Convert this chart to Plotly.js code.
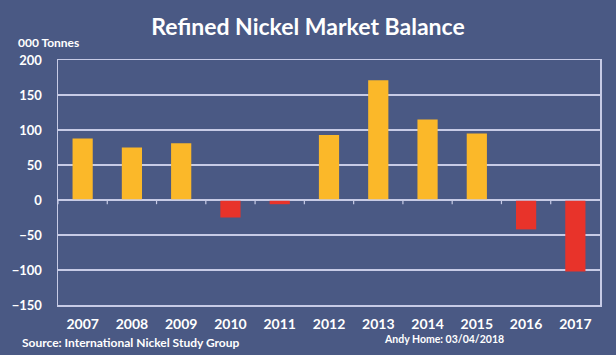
<!DOCTYPE html>
<html><head><meta charset="utf-8">
<script src="https://cdn.plot.ly/plotly-3.0.1.min.js"></script>
<style>html,body{margin:0;padding:0;background:#4a5984;}</style>
</head><body>
<div id="chart" style="width:616px;height:355px;"></div>
<script>
const years = ['2007','2008','2009','2010','2011','2012','2013','2014','2015','2016','2017'];
const balance = [88, 75, 81, -25, -6, 93, 171, 115, 95, -42, -102];
const yTicks = [-150, -100, -50, 0, 50, 100, 150, 200];

const colors = balance.map(v => v >= 0 ? '#fbb829' : '#e8332a');
const F = 'Lato, "Open Sans", sans-serif';

const trace = {
  type: 'bar', x: years, y: balance,
  marker: {color: colors, line: {width: 0}},
  hoverinfo: 'x+y'
};
const grid = '#c7cbe6';
const catRange = [-0.5, years.length - 0.5];

// small tick marks on the zero line at category boundaries
const tickShapes = years.map((_, i) => ({
  type: 'line', xref: 'x', yref: 'y', x0: i - 0.5, x1: i - 0.5, y0: 0, y1: -6,
  line: {color: grid, width: 1.2}, layer: 'above'
}));
tickShapes.push({type: 'line', xref: 'paper', yref: 'y', x0: 0, x1: 1, y0: 0, y1: 0,
  line: {color: grid, width: 1.5}, layer: 'above'});

const layout = {
  width: 616, height: 355,
  paper_bgcolor: '#4a5984', plot_bgcolor: '#4a5984',
  margin: {l: 58, r: 16, t: 60, b: 50},
  bargap: 0.59,
  showlegend: false,
  title: {text: '<b>Refined Nickel Market Balance</b>', x: 0.5, xanchor: 'center', y: 0.925, yanchor: 'middle',
          font: {family: F, size: 23, color: '#ffffff'}},
  xaxis: {type: 'category', range: catRange, showgrid: false, showline: true, linecolor: grid, linewidth: 1.5, mirror: true,
          ticks: '', tickfont: {family: F, size: 14, color: '#ffffff', weight: 'bold'}, ticklabelstandoff: 6},
  yaxis: {range: [yTicks[0], yTicks[yTicks.length-1]], tickvals: yTicks, showgrid: true, gridcolor: grid, gridwidth: 1.5,
          zeroline: false, showline: true, linecolor: grid, linewidth: 1.5, mirror: true, ticks: '',
          tickfont: {family: F, size: 13, color: '#ffffff', weight: 'bold'}, ticklabelstandoff: 12},
  shapes: tickShapes,
  annotations: [
    {text: '<b>000 Tonnes</b>', xref: 'paper', yref: 'paper', x: -0.077, y: 1.07, xanchor: 'left', yanchor: 'middle',
     showarrow: false, font: {family: F, size: 12, color: '#ffffff'}},
    {text: 'Source: International Nickel Study Group', xref: 'paper', yref: 'paper', x: -0.071, y: -0.155,
     xanchor: 'left', yanchor: 'middle', showarrow: false, font: {family: F, size: 12, color: '#ffffff', weight: 'bold'}},
    {text: 'Andy Home: 03/04/2018', xref: 'paper', yref: 'paper', x: 0.597, y: -0.14,
     xanchor: 'left', yanchor: 'middle', showarrow: false, font: {family: F, size: 10.5, color: '#ffffff', weight: 'bold'}}
  ]
};
Plotly.newPlot('chart', [trace], layout, {displayModeBar: false, staticPlot: true});
</script>
</body></html>
